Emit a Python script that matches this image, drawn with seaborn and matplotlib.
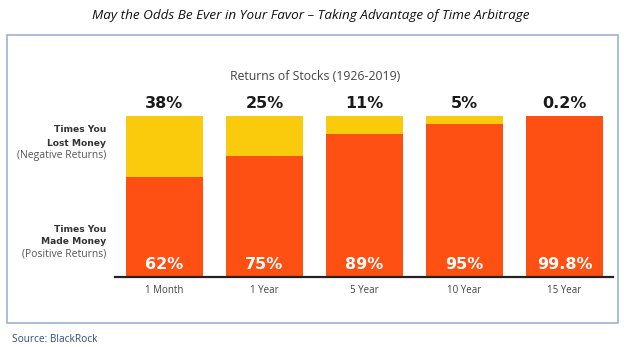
import matplotlib
matplotlib.use("Agg")
import matplotlib.pyplot as plt
from matplotlib.patches import Rectangle
import seaborn as sns

# Share of rolling periods with negative / positive stock returns, 1926-2019
periods = ["1 Month", "1 Year", "5 Year", "10 Year", "15 Year"]
lost_pct = [38, 25, 11, 5, 0.2]
made_pct = [62, 75, 89, 95, 99.8]
lost_labels = ["38%", "25%", "11%", "5%", "0.2%"]
made_labels = ["62%", "75%", "89%", "95%", "99.8%"]

YELLOW = "#F9CB0C"
ORANGE = "#FE5012"

sns.set_theme(style="white")
plt.rcParams["font.family"] = ["Open Sans", "DejaVu Sans"]

W, H = 624, 347
fig = plt.figure(figsize=(W / 100, H / 100), dpi=100)


def fx(px):
    return px / W


def fy(py):
    return 1 - py / H


# Outer frame around the chart panel
fig.patches.append(Rectangle((fx(7), fy(323)), fx(611), 288 / H,
                             transform=fig.transFigure, fill=False,
                             edgecolor="#9DB2D3", linewidth=1.2))

ax = fig.add_axes([fx(115), fy(277), fx(498), 161 / H])
totals = [m + l for m, l in zip(made_pct, lost_pct)]
sns.barplot(x=periods, y=totals, color=YELLOW, width=0.77, saturation=1,
            ax=ax, linewidth=0)
sns.barplot(x=periods, y=made_pct, color=ORANGE, width=0.77, saturation=1,
            ax=ax, linewidth=0)
ax.set_xlim(-0.495, 4.485)
ax.set_ylim(0, 100)
ax.set_yticks([])
ax.set_xlabel("")
ax.set_ylabel("")
for side in ["top", "right", "left"]:
    ax.spines[side].set_visible(False)
ax.spines["bottom"].set_color("#222222")
ax.spines["bottom"].set_linewidth(1.6)
ax.tick_params(axis="x", length=0, pad=6, labelsize=7, labelcolor="#444444")
ax.set_facecolor("none")

for i, (tot, top_lbl, bot_lbl) in enumerate(zip(totals, lost_labels, made_labels)):
    ax.text(i, tot + 3, top_lbl, ha="center", va="bottom", fontsize=11.5,
            fontweight="bold", color="#1a1a1a", family="DejaVu Sans")
    ax.text(i, 3, bot_lbl, ha="center", va="bottom", fontsize=11.5,
            fontweight="bold", color="white", family="DejaVu Sans")

fig.text(fx(315), fy(77), "Returns of Stocks (1926-2019)", ha="center",
         va="center", fontsize=8.8, color="#444444")

side_labels = [
    (130, "Times You", True), (143, "Lost Money", True), (155, "(Negative Returns)", False),
    (229, "Times You", True), (242, "Made Money", True), (254, "(Positive Returns)", False),
]
for ypx, txt, bold in side_labels:
    fig.text(fx(106), fy(ypx), txt, ha="right", va="center",
             fontsize=6.6 if bold else 7.5,
             fontweight="bold" if bold else "normal",
             family="DejaVu Sans" if bold else "Open Sans",
             color="#333333" if bold else "#555555")

fig.text(fx(311), fy(15), "May the Odds Be Ever in Your Favor \u2013 Taking Advantage of Time Arbitrage",
         ha="center", va="center", fontsize=9.7, style="italic", color="#111111")
fig.text(fx(12), fy(340), "Source: BlackRock", ha="left", va="center",
         fontsize=7.3, color="#2F4F7A")

fig.savefig("out.png", dpi=100)
